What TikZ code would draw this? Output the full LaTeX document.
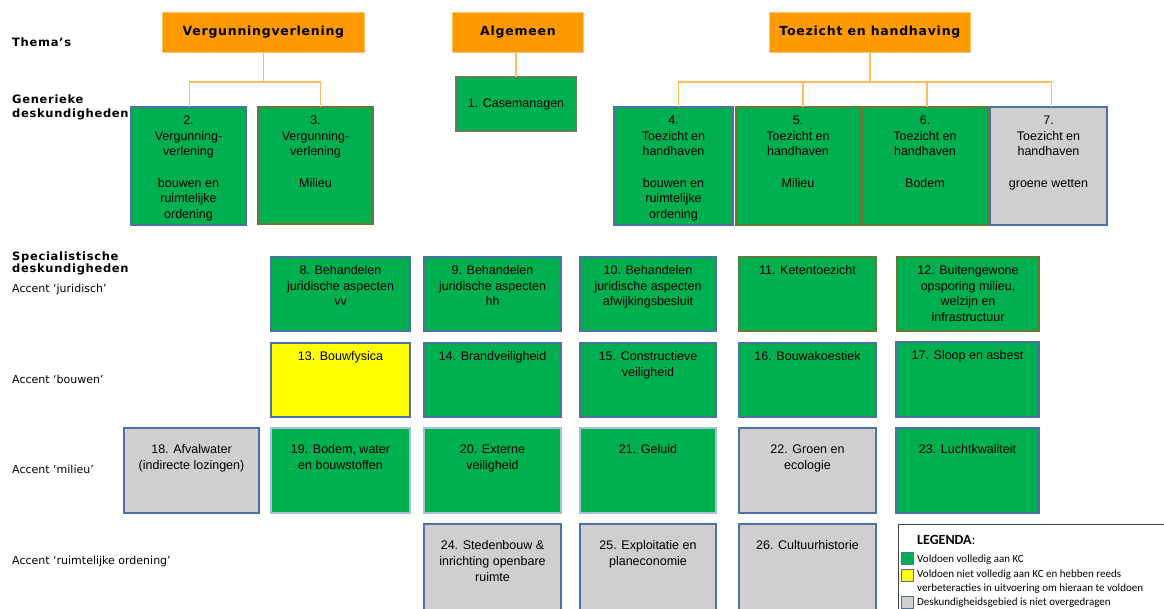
\documentclass[tikz,border=0pt]{standalone}
\usepackage{fontspec}
\setmainfont{Liberation Sans}
\newfontfamily\verd{DejaVu Sans}
\newfontfamily\verdsp[LetterSpace=6]{DejaVu Sans}
\newfontfamily\legf{Carlito}
\usetikzlibrary{calc}
\definecolor{kgreen}{HTML}{00B050}
\definecolor{kgray}{HTML}{D0CECE}
\definecolor{kyellow}{HTML}{FFFF00}
\definecolor{korange}{HTML}{FF9900}
\definecolor{kline}{HTML}{FFB95E}
\definecolor{kblue}{HTML}{4A72A6}
\definecolor{kolive}{HTML}{627A38}
\definecolor{klight}{HTML}{A9BFD9}
\definecolor{kgreenb}{HTML}{5F7F5F}
\definecolor{legb}{HTML}{404040}
\tikzset{
  kbox/.style={rectangle,inner sep=0pt,outer sep=0pt,line width=1.2pt,
    font=\fontsize{12.5}{15.7}\selectfont},
  thema/.style={rectangle,fill=korange,draw=korange!60!white,line width=0.8pt,inner sep=0pt,
    font=\verdsp\bfseries\fontsize{12.5}{14}\selectfont,anchor=north west},
  conn/.style={draw=kline,line width=1.6pt},
  lbl/.style={anchor=base west,inner sep=0pt,font=\verd\fontsize{11}{13}\selectfont},
  lblb/.style={anchor=base west,inner sep=0pt,font=\verdsp\bfseries\fontsize{11.5}{13}\selectfont},
  legt/.style={anchor=base west,inner sep=0pt,font=\legf\fontsize{11}{13}\selectfont},
  legsq/.style={rectangle,draw=kblue,line width=0.8pt,minimum width=12pt,minimum height=12pt,inner sep=0pt,anchor=north west},
  gr/.style={fill=kgreen,draw=kblue},
  go/.style={fill=kgreen,draw=kolive},
  gl/.style={fill=kgreen,draw=klight},
  gy/.style={fill=kgray,draw=kblue},
  yl/.style={fill=kyellow,draw=kblue},
}
% name, x, y, w, h, style, toppad, text
\newcommand\kc[8]{\node[kbox,#6,anchor=north west] (#1) at (#2,#3)
  {\parbox[c][#5pt][t]{#4pt}{\centering\vspace*{#7pt}\strut #8\par}};}
\begin{document}
\begin{tikzpicture}[x=1pt,y=-1pt]
\useasboundingbox (0,0) rectangle (1164,608);
% left labels
\node[lblb] (lthema) at (12,46) {Thema’s};
\node[lblb] (lgen1) at (12,103) {Generieke};
\node[lblb] (lgen2) at (12,117) {deskundigheden};
\node[lblb] (lspec1) at (12,260) {Specialistische};
\node[lblb] (lspec2) at (12,272) {deskundigheden};
\node[lbl] (ljur) at (12,292) {Accent ‘juridisch’};
\node[lbl] (lbouw) at (12,383) {Accent ‘bouwen’};
\node[lbl] (lmil) at (12,473) {Accent ‘milieu’};
\node[lbl] (lro) at (12,564) {Accent ‘ruimtelijke ordening’};
% themes
\node[thema,minimum width=202pt,minimum height=40pt] (tv) at (162,12) {Vergunningverlening};
\node[thema,minimum width=131pt,minimum height=40pt] (ta) at (452,12) {Algemeen};
\node[thema,minimum width=201pt,minimum height=40pt] (tt) at (769,12) {Toezicht en handhaving};
% generic
\node[kbox,go,draw=kgreenb,anchor=north west,minimum width=120pt,minimum height=54pt] (b1) at (456,77) {1. Casemanagen};
\kc{b2}{131}{107}{115}{118}{gr}{6.5}{2.\\Vergunning-\\verlening\\[15.7pt]bouwen en\\ruimtelijke\\ordening}
\kc{b3}{258}{107}{115}{117}{go}{6.5}{3.\\Vergunning-\\verlening\\[15.7pt]Milieu}
\kc{b4}{614}{107}{119}{118}{gr}{6.5}{4.\\Toezicht en\\handhaven\\[15.7pt]bouwen en\\ruimtelijke\\ordening}
\kc{b5}{736}{107}{124}{118}{go}{6.5}{5.\\Toezicht en\\handhaven\\[15.7pt]Milieu}
\kc{b6}{862}{107}{126}{118}{go}{6.5}{6.\\Toezicht en\\handhaven\\[15.7pt]Bodem}
\kc{b7}{990}{107}{117}{118}{gy}{6.5}{7.\\Toezicht en\\handhaven\\[15.7pt]groene wetten}
% connectors
\draw[conn] (tv.south) -- ++(0,29) coordinate (jv);
\draw[conn] (jv) -| ($(b2.north)+(1,0)$);
\draw[conn] (jv) -| ($(b3.north)+(5,0)$);
\draw[conn] (ta.south -| b1.north) -- (b1.north);
\draw[conn] (tt.south) -- ++(0,29) coordinate (jt);
\draw[conn] (jt) -| ($(b4.north)+(5,0)$);
\draw[conn] (jt) -| ($(b5.north)+(5,0)$);
\draw[conn] (jt) -| ($(b6.north)+(2,0)$);
\draw[conn] (jt) -| ($(b7.north)+(3,0)$);
% accent juridisch
\kc{b8}{271}{257}{139}{74}{gr}{6.5}{8. Behandelen\\juridische aspecten\\vv}
\kc{b9}{424}{257}{137}{74}{gr}{6.5}{9. Behandelen\\juridische aspecten\\hh}
\kc{b10}{580}{257}{136}{74}{gr}{6.5}{10. Behandelen\\juridische aspecten\\afwijkingsbesluit}
\kc{b11}{739}{257}{137}{74}{go}{6.5}{11. Ketentoezicht}
\kc{b12}{897}{257}{142}{74}{go}{6.5}{12. Buitengewone\\opsporing milieu,\\welzijn en\\infrastructuur}
% accent bouwen
\kc{b13}{271}{343}{139}{74}{yl}{6.5}{13. Bouwfysica}
\kc{b14}{424}{343}{137}{74}{gr}{6.5}{14. Brandveiligheid}
\kc{b15}{580}{343}{136}{74}{gr}{6.5}{15. Constructieve\\veiligheid}
\kc{b16}{739}{343}{137}{74}{gr}{6.5}{16. Bouwakoestiek}
\kc{b17}{896}{342}{143}{75}{gr}{6.5}{17. Sloop en asbest}
% accent milieu
\kc{b18}{124}{428}{135}{85}{gy}{15}{18. Afvalwater\\(indirecte lozingen)}
\kc{b19}{271}{428}{139}{85}{gl}{15}{19. Bodem, water\\en bouwstoffen}
\kc{b20}{424}{428}{137}{85}{gl}{15}{20. Externe\\veiligheid}
\kc{b21}{580}{428}{136}{85}{gl}{15}{21. Geluid}
\kc{b22}{739}{428}{137}{85}{gy}{15}{22. Groen en\\ecologie}
\kc{b23}{896}{428}{143}{85}{gr}{15}{23. Luchtkwaliteit}
% accent ruimtelijke ordening
\kc{b24}{424}{524}{137}{92}{gy}{15}{24. Stedenbouw \&\\inrichting openbare\\ruimte}
\kc{b25}{580}{524}{136}{92}{gy}{15}{25. Exploitatie en\\planeconomie}
\kc{b26}{739}{524}{137}{92}{gy}{15}{26. Cultuurhistorie}
% legend
\node[rectangle,draw=legb,line width=1pt,fill=white,anchor=north west,minimum width=280pt,minimum height=95pt,inner sep=0pt] (leg) at (898,524) {};
\node[anchor=base west,inner sep=0pt,font=\legf\fontsize{14}{16}\selectfont] (legt) at (917,544) {\textbf{LEGENDA}:};
\node[legsq,fill=kgreen] (sq1) at (901,552) {};
\node[legt] (lt1) at (917,562) {Voldoen volledig aan KC};
\node[legsq,fill=kyellow] (sq2) at (901,569) {};
\node[legt] (lt2) at (917,577) {Voldoen niet volledig aan KC en hebben reeds};
\node[legt] (lt3) at (917,591) {verbeteracties in uitvoering om hieraan te voldoen};
\node[legsq,fill=kgray] (sq3) at (901,596) {};
\node[legt] (lt4) at (917,605) {Deskundigheidsgebied is niet overgedragen};
\end{tikzpicture}
\end{document}
